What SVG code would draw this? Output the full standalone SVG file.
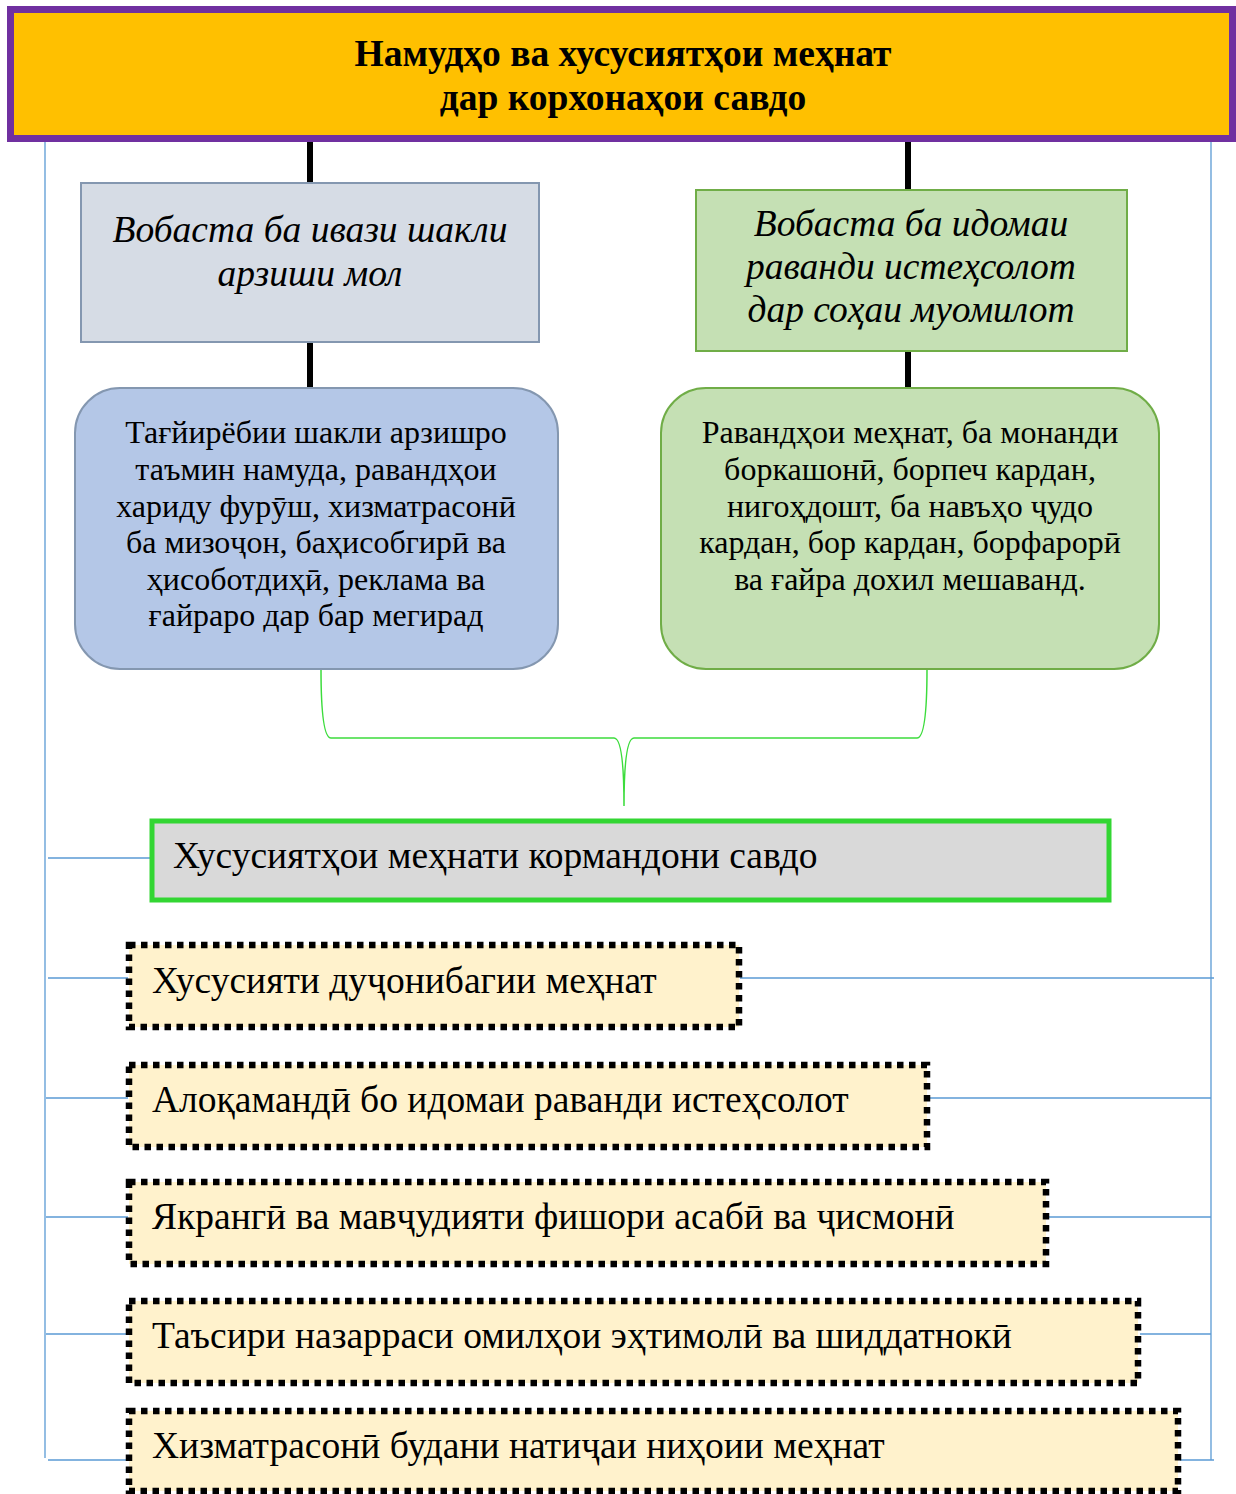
<svg xmlns="http://www.w3.org/2000/svg" width="1236" height="1494" viewBox="0 0 1236 1494">
<style>
.t{font-family:"Liberation Serif","Times New Roman",serif;fill:#000}
.title{font-size:37.5px;font-weight:bold;text-anchor:middle}
.it{font-size:37.5px;font-style:italic;text-anchor:middle}
.mid{font-size:32px;text-anchor:middle}
.big{font-size:37.5px}
.dot{fill:#FFF2CC;stroke:#000;stroke-width:6.5;stroke-dasharray:6.5 5.5}
.blue{stroke:#5B9BD5;stroke-width:1.3;fill:none}
.blk{stroke:#000;stroke-width:6;fill:none}
.brace{stroke:#3CDC3C;stroke-width:1.5;fill:none}
</style>
<rect width="1236" height="1494" fill="#fff"/>
<g id="connectors">
<path class="blue" d="M45,142 V1458 M48,858 H150 M48,978 H128 M46,1098 H128 M46,1217 H128 M46,1334 H128 M48,1460 H128"/>
<path class="blue" d="M1211,142 V1460 M740,978 H1214 M930,1098 H1211 M1048,1217 H1211 M1140,1334 H1211 M1180,1460 H1214"/>
<path class="blk" d="M310,142 V183 M908,142 V190 M310,342 V388 M908,352 V388"/>
<path class="brace" d="M321,669 Q321,738 331,738 H614 Q624,738 624,806 M927,669 Q927,738 917,738 H634 Q624,738 624,806"/>
</g>
<g id="title">
<rect x="10.5" y="9.5" width="1222" height="129" fill="#FFC000" stroke="#7030A0" stroke-width="7"/>
<text class="t title" x="623" y="66">Намудҳо ва хусусиятҳои меҳнат</text>
<text class="t title" x="623" y="110">дар корхонаҳои савдо</text>
</g>
<g id="left-box">
<rect x="81" y="183" width="458" height="159" fill="#D6DCE5" stroke="#8497B0" stroke-width="2"/>
<text class="t it" x="310" y="242">Вобаста ба ивази шакли</text>
<text class="t it" x="310" y="286">арзиши мол</text>
</g>
<g id="right-box">
<rect x="696" y="190" width="431" height="161" fill="#C5E0B4" stroke="#70AD47" stroke-width="2"/>
<text class="t it" x="911" y="236">Вобаста ба идомаи</text>
<text class="t it" x="911" y="279">раванди истеҳсолот</text>
<text class="t it" x="911" y="322">дар соҳаи муомилот</text>
</g>
<g id="left-round">
<rect x="75" y="388" width="483" height="281" rx="45" fill="#B4C7E7" stroke="#8497B0" stroke-width="2"/>
<text class="t mid" x="316" y="443">Тағйирёбии шакли арзишро</text>
<text class="t mid" x="316" y="480">таъмин намуда, равандҳои</text>
<text class="t mid" x="316" y="517">хариду фурӯш, хизматрасонӣ</text>
<text class="t mid" x="316" y="553">ба мизоҷон, баҳисобгирӣ ва</text>
<text class="t mid" x="316" y="590">ҳисоботдиҳӣ, реклама ва</text>
<text class="t mid" x="316" y="626">ғайраро дар бар мегирад</text>
</g>
<g id="right-round">
<rect x="661" y="388" width="498" height="281" rx="45" fill="#C5E0B4" stroke="#70AD47" stroke-width="2"/>
<text class="t mid" x="910" y="443">Равандҳои меҳнат, ба монанди</text>
<text class="t mid" x="910" y="480">боркашонӣ, борпеч кардан,</text>
<text class="t mid" x="910" y="517">нигоҳдошт, ба навъҳо ҷудо</text>
<text class="t mid" x="910" y="553">кардан, бор кардан, борфарорӣ</text>
<text class="t mid" x="910" y="590">ва ғайра дохил мешаванд.</text>
</g>
<g id="features">
<rect x="152" y="821" width="957" height="79" fill="#D9D9D9" stroke="#33D633" stroke-width="5"/>
<text class="t big" x="173" y="868">Хусусиятҳои меҳнати кормандони савдо</text>
</g>
<g id="f1">
<rect class="dot" x="129" y="945" width="610" height="82"/>
<text class="t big" x="152" y="993">Хусусияти дуҷонибагии меҳнат</text>
</g>
<g id="f2">
<rect class="dot" x="129" y="1065" width="798" height="82"/>
<text class="t big" x="152" y="1112">Алоқамандӣ бо идомаи раванди истеҳсолот</text>
</g>
<g id="f3">
<rect class="dot" x="129" y="1182" width="917" height="82"/>
<text class="t big" x="152" y="1229">Якрангӣ ва мавҷудияти фишори асабӣ ва ҷисмонӣ</text>
</g>
<g id="f4">
<rect class="dot" x="129" y="1301" width="1009" height="82"/>
<text class="t big" x="152" y="1348">Таъсири назарраси омилҳои эҳтимолӣ ва шиддатнокӣ</text>
</g>
<g id="f5">
<rect class="dot" x="129" y="1411" width="1049" height="80"/>
<text class="t big" x="152" y="1458">Хизматрасонӣ будани натиҷаи ниҳоии меҳнат</text>
</g>
</svg>
